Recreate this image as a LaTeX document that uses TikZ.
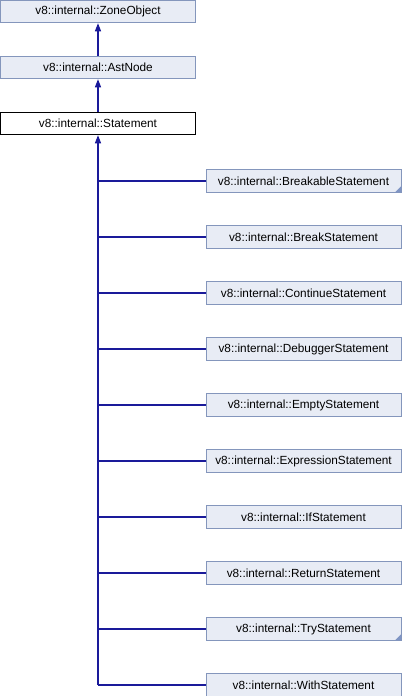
\documentclass[tikz,border=0pt]{standalone}
\usepackage{fontspec}
\setmainfont{Liberation Sans}
\usetikzlibrary{arrows.meta,calc}
\definecolor{boxfill}{HTML}{E8ECF5}
\definecolor{boxedge}{HTML}{8496BC}
\definecolor{linkblue}{HTML}{1A1A9A}
\definecolor{cornerc}{HTML}{7F95C4}
\tikzset{
  cls/.style={draw=boxedge, fill=boxfill, line width=1pt, minimum width=195pt, minimum height=22.5pt, inner sep=0pt, font=\fontsize{11.8pt}{13pt}\selectfont, anchor=center},
  cur/.style={cls, draw=black, fill=white},
  inh/.style={draw=linkblue, line width=1.1pt},
  inharr/.style={inh, -{Triangle[length=8pt,width=6pt]}},
}
\begin{document}
\begin{tikzpicture}[x=1pt,y=-1pt]
\useasboundingbox (0,0) rectangle (402,696);
\node[cls] (zone) at (98,11.5) {v8::internal::ZoneObject};
\node[cls] (ast) at (98,67.5) {v8::internal::AstNode};
\node[cur] (stmt) at (98,123.5) {v8::internal::Statement};
\draw[inharr] (ast.north) -- (zone.south);
\draw[inharr] (stmt.north) -- (ast.south);
\foreach \n/\t [count=\i from 0] in {brk/BreakableStatement,brs/BreakStatement,con/ContinueStatement,dbg/DebuggerStatement,emp/EmptyStatement,exp/ExpressionStatement,ifs/IfStatement,ret/ReturnStatement,try/TryStatement,wit/WithStatement}{
  \node[cls] (\n) at (303.5,{181+56*\i}) {v8::internal::\t};
}
\foreach \n in {brk,try}{
  \fill[cornerc] ($(\n.south east)+(-0.5,-0.5)$) -- ++(0,-6) -- ++(-6,6) -- cycle;
}
\coordinate (trunk) at (98,685);
\draw[inh] (trunk) -- (98,150);
\draw[inharr] (98,150) -- (stmt.south);
\foreach \n in {brk,brs,con,dbg,emp,exp,ifs,ret,try,wit}{
  \draw[inh] (\n.west) -- (\n.west -| trunk);
}
\end{tikzpicture}
\end{document}
